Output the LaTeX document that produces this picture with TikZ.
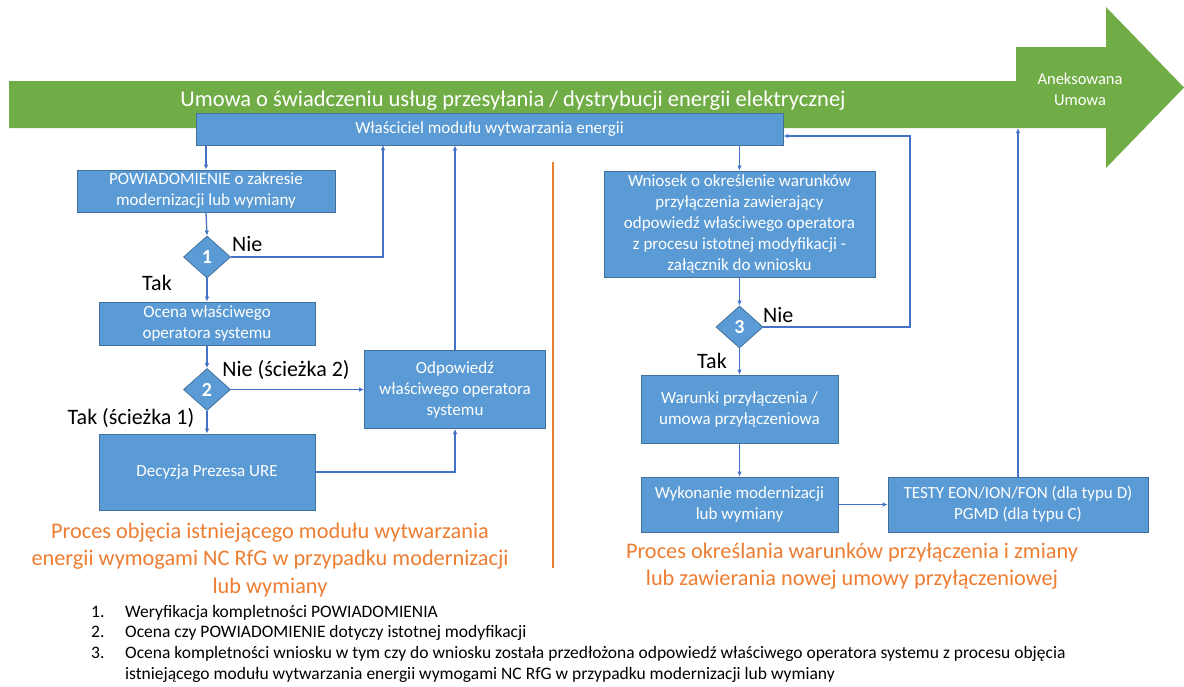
\documentclass[tikz,border=0pt]{standalone}
\usepackage{fontspec}
\setmainfont{Carlito}
\usetikzlibrary{arrows.meta,shapes.geometric}
\definecolor{gr}{HTML}{70AD47}
\definecolor{bfill}{HTML}{5B9BD5}
\definecolor{bline}{HTML}{41719C}
\definecolor{conn}{HTML}{4472C4}
\definecolor{orng}{HTML}{ED7D31}
\begin{document}
\begin{tikzpicture}[x=1pt,y=-1pt,
  box/.style={rectangle, fill=bfill, draw=bline, line width=0.8pt, text=white, align=center,
    font=\fontsize{17}{21}\selectfont, inner sep=0pt},
  dia/.style={diamond, fill=bfill, draw=bline, line width=0.8pt, text=white, minimum width=47pt,
    minimum height=42pt, inner sep=0pt, font=\fontsize{20}{20}\selectfont\bfseries},
  arr/.style={draw=conn, line width=1.3pt, -{Latex[length=5pt,width=4.5pt]}},
  lab/.style={font=\fontsize{22}{24}\selectfont, inner sep=0pt},
  otext/.style={text=orng, align=center, font=\fontsize{22.3}{27.5}\selectfont, inner sep=0pt},
  ltext/.style={font=\fontsize{17.5}{20}\selectfont, inner sep=0pt, anchor=base west},
  wtext/.style={text=white, inner sep=0pt}]
\useasboundingbox (0,0) rectangle (1184,686);
\fill[white] (0,0) rectangle (1184,686);
% green arrow
\fill[gr] (9,81) -- (1016,81) -- (1016,47) -- (1106,47) -- (1106,7) -- (1184,87.5)
  -- (1106,168) -- (1106,128) -- (9,128) -- cycle;
\coordinate (gbot) at (1018,128);
\node[wtext, font=\fontsize{22.5}{24}\selectfont] (title) at (513,101)
  {Umowa o świadczeniu usług przesyłania / dystrybucji energii elektrycznej};
\node[wtext, align=center, font=\fontsize{16.5}{21}\selectfont] (anx) at (1080,89.5)
  {Aneksowana\\Umowa};
% boxes
\node[box, minimum width=587pt, minimum height=32pt] (own) at (489.5,129)
  {Właściciel modułu wytwarzania energii};
\node[box, minimum width=258pt, minimum height=42pt] (pow) at (206,191)
  {POWIADOMIENIE o zakresie\\modernizacji lub wymiany};
\node[dia] (d1) at (207,257) {1};
\node[box, minimum width=216pt, minimum height=43pt] (oc) at (207,323.5)
  {Ocena właściwego\\operatora systemu};
\node[dia] (d2) at (207,389.5) {2};
\node[box, minimum width=181pt, minimum height=78pt] (odp) at (455,389.5)
  {Odpowiedź\\właściwego operatora\\systemu};
\node[box, minimum width=216pt, minimum height=76pt] (dec) at (207,472)
  {Decyzja Prezesa URE};
\node[box, minimum width=271pt, minimum height=106pt] (wn) at (739.5,224)
  {Wniosek o określenie warunków\\przyłączenia zawierający\\odpowiedź właściwego operatora\\z procesu istotnej modyfikacji -\\załącznik do wniosku};
\node[dia] (d3) at (739.5,327) {3};
\node[box, minimum width=197pt, minimum height=68pt] (war) at (739.5,409)
  {Warunki przyłączenia /\\umowa przyłączeniowa};
\node[box, minimum width=197pt, minimum height=55pt] (wyk) at (739.5,504.5)
  {Wykonanie modernizacji\\lub wymiany};
\node[box, minimum width=260pt, minimum height=55pt] (tst) at (1018,504.5)
  {TESTY EON/ION/FON (dla typu D)\\PGMD (dla typu C)};
% helper coordinates
\coordinate (k1) at (383,145);
\coordinate (k3) at (910,136);
% connectors left
\draw[arr] (own.south -| pow.north) -- (pow.north);
\draw[arr] (pow.south) -- (d1.north);
\draw[arr] (d1.east) -| (k1);
\draw[arr] (d1.south) -- (oc.north);
\draw[arr] (oc.south) -- (d2.north);
\draw[arr] (d2.east) -- (odp.west);
\draw[arr] (odp.north) -- (odp.north |- own.south);
\draw[arr] (d2.south) -- (dec.north);
\draw[arr] (dec.east) -| (odp.south);
% connectors right
\draw[arr] (own.south -| wn.north) -- (wn.north);
\draw[arr] (wn.south) -- (d3.north);
\draw[arr] (d3.east) -| (k3) -- (k3 -| own.east);
\draw[arr] (d3.south) -- (war.north);
\draw[arr] (war.south) -- (wyk.north);
\draw[arr] (wyk.east) -- (tst.west);
\draw[arr] (tst.north) -- (tst.north |- gbot);
% labels
\node[lab, anchor=west] (n1) at (232,244) {Nie};
\node[lab] (t1) at (157,283) {Tak};
\node[lab] (n2) at (286,370) {Nie (ścieżka 2)};
\node[lab] (t2) at (131,418) {Tak (ścieżka 1)};
\node[lab, anchor=west] (n3) at (763,315) {Nie};
\node[lab] (t3) at (712,361) {Tak};
% divider
\draw[orng, line width=1.5pt] (553,162) -- (553,568);
% orange captions
\node[otext] (capl) at (270,560)
  {Proces objęcia istniejącego modułu wytwarzania\\energii wymogami NC RfG w przypadku modernizacji\\lub wymiany};
\node[otext] (capr) at (852,566)
  {Proces określania warunków przyłączenia i zmiany\\lub zawierania nowej umowy przyłączeniowej};
% list
\node[ltext] (l1n) at (91,617) {1.};
\node[ltext] (l1) at (125,617) {Weryfikacja kompletności POWIADOMIENIA};
\node[ltext] (l2n) at (91,637) {2.};
\node[ltext] (l2) at (125,637) {Ocena czy POWIADOMIENIE dotyczy istotnej modyfikacji};
\node[ltext] (l3n) at (91,658) {3.};
\node[ltext] (l3) at (125,658) {Ocena kompletności wniosku w tym czy do wniosku została przedłożona odpowiedź właściwego operatora systemu z procesu objęcia};
\node[ltext] (l4) at (125,679) {istniejącego modułu wytwarzania energii wymogami NC RfG w przypadku modernizacji lub wymiany};
\end{tikzpicture}
\end{document}
